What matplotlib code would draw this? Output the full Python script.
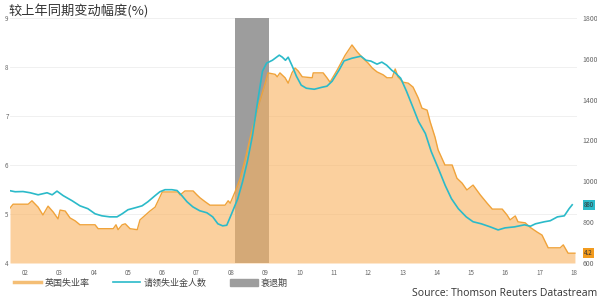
import matplotlib
matplotlib.use('Agg')
import matplotlib.pyplot as plt
from matplotlib.patches import Patch
from matplotlib.lines import Line2D

plt.rcParams['font.family'] = ['Noto Sans CJK SC', 'DejaVu Sans']

# 英国失业率 (%), decimal years
rate_t = [2001.56, 2001.65, 2002.09, 2002.2, 2002.38, 2002.52, 2002.67, 2002.82, 2002.96, 2003.02,
          2003.17, 2003.31, 2003.46, 2003.6, 2004.04, 2004.13, 2004.57, 2004.65, 2004.71, 2004.83,
          2004.92, 2005.06, 2005.27, 2005.35, 2005.64, 2005.79, 2006.0, 2006.46, 2006.52, 2006.66,
          2006.9, 2007.01, 2007.1, 2007.25, 2007.39, 2007.83, 2007.92, 2007.98, 2008.12, 2008.27,
          2008.41, 2008.56, 2008.79, 2009.0, 2009.08, 2009.29, 2009.35, 2009.43, 2009.58, 2009.67,
          2009.78, 2009.87, 2009.96, 2010.08, 2010.37, 2010.4, 2010.69, 2010.8, 2010.89, 2011.1,
          2011.33, 2011.53, 2011.68, 2011.85, 2012.0, 2012.12, 2012.26, 2012.44, 2012.55, 2012.7,
          2012.79, 2012.87, 2013.02, 2013.17, 2013.31, 2013.46, 2013.57, 2013.72, 2013.81, 2013.95,
          2014.04, 2014.24, 2014.45, 2014.59, 2014.74, 2014.88, 2015.06, 2015.27, 2015.47, 2015.62,
          2015.91, 2016.05, 2016.14, 2016.29, 2016.37, 2016.58, 2016.72, 2016.93, 2017.07, 2017.25,
          2017.6, 2017.69, 2017.83, 2018.03]
rate = [5.12, 5.2, 5.2, 5.27, 5.14, 4.98, 5.16, 5.04, 4.9, 5.08,
        5.06, 4.92, 4.86, 4.78, 4.78, 4.7, 4.7, 4.78, 4.68, 4.78,
        4.8, 4.7, 4.68, 4.88, 5.06, 5.14, 5.45, 5.45, 5.39, 5.47,
        5.47, 5.39, 5.33, 5.25, 5.18, 5.18, 5.27, 5.22, 5.45, 5.73,
        6.1, 6.55, 7.18, 7.67, 7.88, 7.85, 7.8, 7.88, 7.78, 7.67,
        7.88, 7.98, 7.92, 7.8, 7.78, 7.88, 7.88, 7.78, 7.69, 7.94,
        8.24, 8.45, 8.31, 8.18, 8.08, 7.98, 7.9, 7.84, 7.78, 7.78,
        7.96, 7.8, 7.69, 7.67, 7.59, 7.37, 7.16, 7.12, 6.88, 6.57,
        6.31, 6.0, 6.0, 5.73, 5.63, 5.49, 5.59, 5.39, 5.22, 5.1,
        5.1, 4.98, 4.88, 4.96, 4.84, 4.82, 4.73, 4.63, 4.57, 4.31,
        4.31, 4.37, 4.2, 4.2]

# 请领失业金人数 (千人), decimal years
claim_t = [2001.56, 2001.71, 2001.94, 2002.15, 2002.38, 2002.64, 2002.79, 2002.93, 2003.11, 2003.37,
           2003.6, 2003.83, 2004.04, 2004.24, 2004.47, 2004.68, 2004.83, 2005.0, 2005.2, 2005.41,
           2005.58, 2005.79, 2005.93, 2006.08, 2006.28, 2006.43, 2006.57, 2006.72, 2006.89, 2007.09,
           2007.3, 2007.47, 2007.62, 2007.76, 2007.88, 2008.02, 2008.2, 2008.34,
           2008.48, 2008.63, 2008.78, 2008.92, 2009.04, 2009.21, 2009.41, 2009.5, 2009.59, 2009.67,
           2009.79, 2009.91, 2010.05, 2010.2, 2010.43, 2010.66, 2010.8, 2010.95,
           2011.15, 2011.3, 2011.53, 2011.79, 2011.94, 2012.08, 2012.26, 2012.4, 2012.54, 2012.69,
           2012.8, 2012.95, 2013.12, 2013.32, 2013.47, 2013.67, 2013.84, 2014.05,
           2014.25, 2014.43, 2014.63, 2014.86, 2015.06, 2015.3, 2015.56, 2015.79, 2015.99, 2016.27,
           2016.56, 2016.73, 2016.88, 2017.14, 2017.31, 2017.52, 2017.72, 2017.86, 2017.95]
claims = [954, 949, 950, 944, 934, 944, 934, 952, 930, 905, 880, 866, 841, 831, 826, 826, 841, 861, 870, 880,
          900, 930, 949, 959, 959, 955, 930, 900, 875, 856, 846, 826, 792, 782, 785, 841, 915, 998,
          1097, 1225, 1392, 1539, 1579, 1593, 1618, 1608, 1593, 1608, 1564, 1515, 1471, 1456, 1451, 1461, 1466, 1490,
          1544, 1590, 1603, 1613, 1593, 1589, 1574, 1584, 1569, 1544, 1530, 1505, 1441, 1357, 1293, 1234, 1146, 1062,
          979, 915, 866, 826, 802, 792, 777, 762, 772, 777, 787, 780, 792, 802, 807, 826, 831, 866, 885]

recession = (2008.12, 2009.1)
years = list(range(2002, 2019))
year_labels = ['%02d' % (y % 100) for y in years]

orange = '#F0A33A'
fill_c = '#F9B25E'
teal = '#2BBAC9'
grey_txt = '#666666'

fig = plt.figure(figsize=(5.97, 3.01), dpi=100)
ax = fig.add_axes([10 / 597, 38 / 301, 567 / 597, 245 / 301])
ax2 = ax.twinx()

ax.axvspan(recession[0], recession[1], color='#9d9d9d', lw=0, zorder=1)
ax.fill_between(rate_t, 4, rate, color=fill_c, alpha=0.6, lw=0, zorder=2)
ax.plot(rate_t, rate, color=orange, lw=1.0, zorder=3)
ax2.plot(claim_t, claims, color=teal, lw=1.2, zorder=4)

ax.set_xlim(2001.56, 2018.09)
ax.set_ylim(4, 9)
ax2.set_ylim(600, 1800)
ax.set_yticks([4, 5, 6, 7, 8, 9])
ax2.set_yticks([600, 800, 1000, 1200, 1400, 1600, 1800])
ax.set_xticks(years)
ax.set_xticklabels(year_labels)
ax.grid(axis='y', color='#eeeeee', lw=0.6)
ax.set_axisbelow(True)
for a in (ax, ax2):
    for s in a.spines.values():
        s.set_visible(False)
ax.tick_params(axis='both', length=0, labelsize=4.5, colors=grey_txt, pad=4)
ax.tick_params(axis='y', pad=1)
ax2.tick_params(axis='y', length=0, labelsize=5, colors=grey_txt, pad=4)

# end-value tags on right
ax2.annotate('880', xy=(1.0, claims[-1]), xycoords=('axes fraction', 'data'), xytext=(5, 0),
             textcoords='offset points', fontsize=4.5, va='center', color='#333333',
             bbox=dict(boxstyle='square,pad=0.2', fc=teal, ec='none'))
ax.annotate('4.2', xy=(1.0, rate[-1]), xycoords=('axes fraction', 'data'), xytext=(5, 0),
            textcoords='offset points', fontsize=4.5, va='center', color='#333333',
            bbox=dict(boxstyle='square,pad=0.2', fc='#F29B1E', ec='none'))

fig.text(8 / 597, 1 - 12 / 301, '较上年同期变动幅度(%)', fontsize=9.5, color='#333333', va='center')

handles = [Line2D([], [], color=orange, lw=2.5, alpha=0.7),
           Line2D([], [], color=teal, lw=1.2),
           Patch(color='#9d9d9d')]
fig.legend(handles, ['英国失业率', '请领失业金人数', '衰退期'], loc='center left',
           bbox_to_anchor=(6 / 597, 1 - 283 / 301), ncol=3, frameon=False, fontsize=6.5,
           handlelength=3, columnspacing=2.6, handletextpad=0.4, labelcolor='#444444')

fig.text(1.0, 1 - 294 / 301, 'Source: Thomson Reuters Datastream', fontsize=7.5,
         color='#333333', ha='right', va='center', family=['Open Sans', 'DejaVu Sans'])

fig.savefig('out.png', dpi=100)
